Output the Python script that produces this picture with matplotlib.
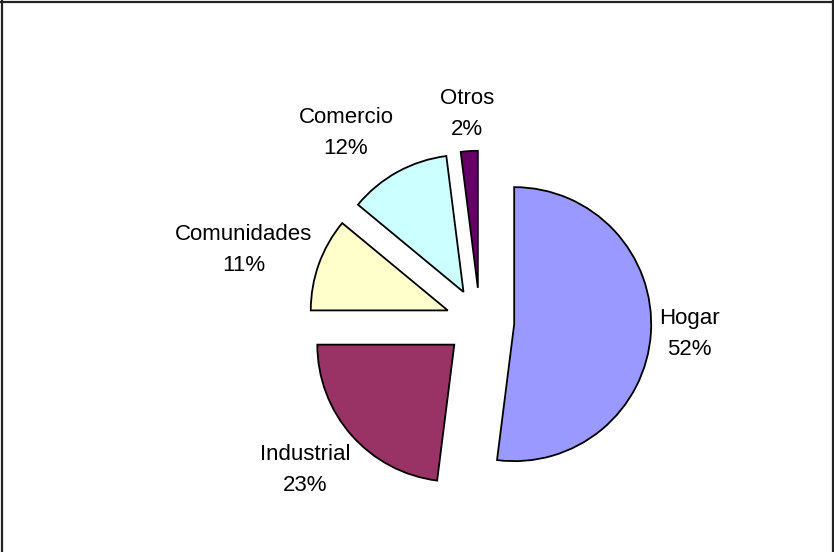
import matplotlib
matplotlib.use("Agg")
import matplotlib.pyplot as plt
from matplotlib.lines import Line2D

# Consumption share by sector
categories = ["Hogar", "Industrial", "Comunidades", "Comercio", "Otros"]
shares = [52, 23, 11, 12, 2]
colors = ["#9999FF", "#993366", "#FFFFCC", "#CCFFFF", "#660066"]

# Label block centres (in units of the pie radius, pie centre at origin)
label_pos = [(1.526, -0.088), (-1.277, -1.080), (-1.723, 0.526),
             (-0.978, 1.380), (-0.095, 1.518)]

W, H = 834, 552
fig = plt.figure(figsize=(W / 100, H / 100), dpi=100)
ax = fig.add_axes([0, 0, 1, 1])

R = 137.0                    # pie radius in pixels
cx, cy = 480.0, 230.0        # pie centre in pixels (from bottom-left)

ax.pie(shares, colors=colors, startangle=90, counterclock=False,
       explode=[0.25] * len(shares), radius=1.0,
       wedgeprops=dict(edgecolor="black", linewidth=1.3))

ax.set_xlim(-cx / R, (W - cx) / R)
ax.set_ylim(-cy / R, (H - cy) / R)
ax.set_aspect("equal", adjustable="box")
ax.axis("off")

for name, val, (x, y) in zip(categories, shares, label_pos):
    ax.text(x, y, f"{name}\n{val}%", ha="center", va="center",
            fontsize=16, family="Liberation Sans", linespacing=1.65,
            color="black")

# Chart area frame
lw = 1.6
for xs, ys in [([1.5 / W, 1.5 / W], [0, 1]),
               ([0, 1], [1 - 1.5 / H, 1 - 1.5 / H]),
               ([832.5 / W, 832.5 / W], [0, 1])]:
    fig.add_artist(Line2D(xs, ys, transform=fig.transFigure,
                          color="#222222", linewidth=lw))

fig.savefig("out.png", dpi=100, facecolor="white")
